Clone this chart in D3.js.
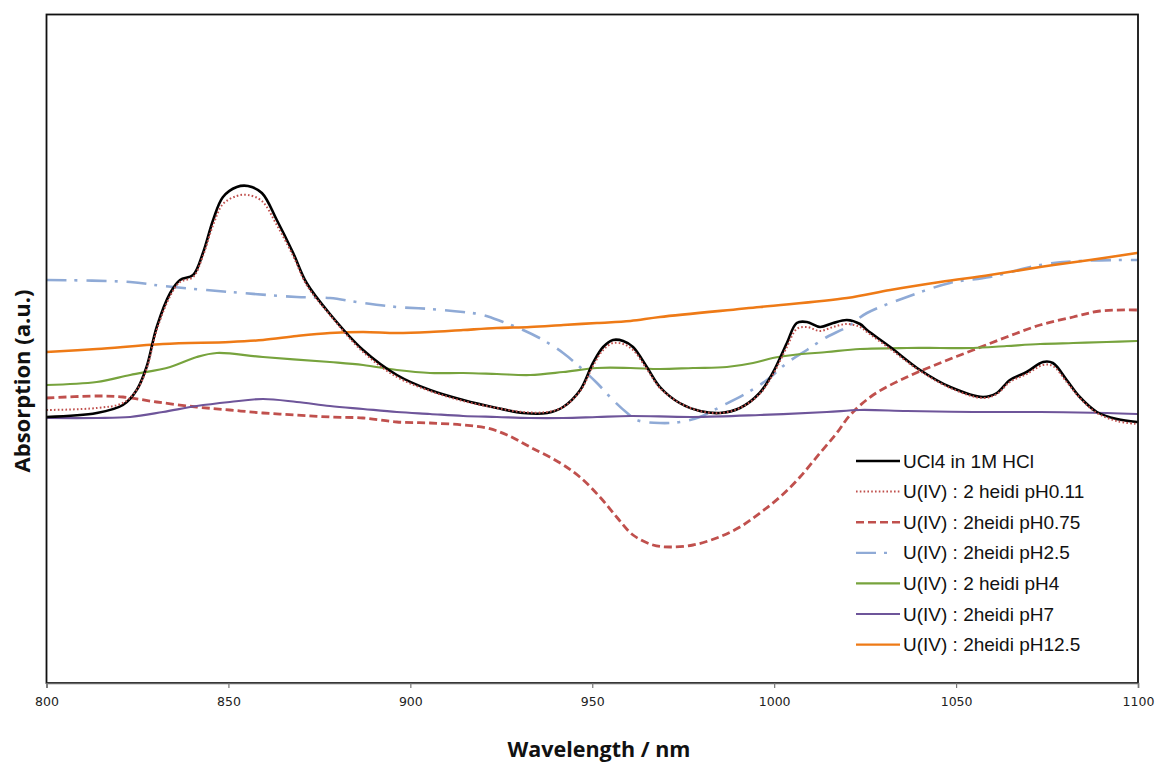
<!DOCTYPE html>
<html>
<head>
<meta charset="utf-8">
<script src="https://cdn.jsdelivr.net/npm/d3@7"></script>
<style>
  html, body { margin: 0; padding: 0; background: #fff; }
  svg { display: block; }
</style>
</head>
<body>
<svg id="chart" width="1158" height="763"></svg>
<script>
// Absorption spectra of U(IV) samples, 800–1100 nm (arbitrary units)

const xTicks = [800, 850, 900, 950, 1000, 1050, 1100];

const seriesNames = [
  "UCl4 in 1M HCl",
  "U(IV) : 2 heidi pH0.11",
  "U(IV) : 2heidi pH0.75",
  "U(IV) : 2heidi pH2.5",
  "U(IV) : 2 heidi pH4",
  "U(IV) : 2heidi pH7",
  "U(IV) : 2heidi pH12.5"
];

// [wavelength nm, absorption a.u.]
const uCl4HCl = [
  [800, 2.66], [813.8, 2.70], [821, 2.78], [824.8, 2.93], [827.5, 3.16], [830.3, 3.56],
  [834, 3.90], [836.7, 4.03], [840.3, 4.08], [843, 4.30], [845.8, 4.63], [848.5, 4.86],
  [852.3, 4.96], [855.4, 4.97], [859.2, 4.90], [863.3, 4.63], [867.8, 4.30], [871.5, 4.00],
  [877.9, 3.69], [887, 3.33], [896.3, 3.08], [905.4, 2.93], [914.5, 2.83], [923.8, 2.75],
  [931, 2.70], [937.6, 2.70], [942, 2.76], [946.7, 2.93], [950.2, 3.20], [953, 3.36],
  [955.7, 3.43], [958.5, 3.42], [961.2, 3.36], [965, 3.16], [968.6, 2.96], [974, 2.80],
  [979.6, 2.72], [985.1, 2.70], [990.6, 2.75], [996, 2.90], [999.6, 3.10], [1003.5, 3.40],
  [1006.2, 3.60], [1009, 3.61], [1012.6, 3.56], [1016.2, 3.60], [1020, 3.63], [1023.6, 3.59],
  [1025.5, 3.53], [1031.9, 3.36], [1040.1, 3.13], [1048.4, 2.96], [1057.4, 2.86], [1061.2, 2.90],
  [1064.8, 3.03], [1069.4, 3.11], [1073.9, 3.21], [1076.6, 3.20], [1080.4, 3.03], [1084, 2.86],
  [1088.7, 2.71], [1094.2, 2.64], [1099.7, 2.61]
];

const pH011 = [
  [800, 2.73], [813.8, 2.75], [821, 2.80], [824.8, 2.93], [827.5, 3.14], [830.3, 3.53],
  [834, 3.87], [836.7, 4.01], [840.3, 4.06], [843, 4.27], [845.8, 4.58], [848.5, 4.79],
  [852.3, 4.87], [855.4, 4.88], [859.2, 4.82], [863.3, 4.58], [867.8, 4.27], [871.5, 3.98],
  [877.9, 3.68], [887, 3.31], [896.3, 3.06], [905.4, 2.92], [914.5, 2.82], [923.8, 2.75],
  [931, 2.71], [937.6, 2.71], [942, 2.76], [946.7, 2.92], [950.2, 3.17], [953, 3.33],
  [955.7, 3.40], [958.5, 3.39], [961.2, 3.33], [965, 3.14], [968.6, 2.95], [974, 2.80],
  [979.6, 2.72], [985.1, 2.70], [990.6, 2.75], [996, 2.89], [999.6, 3.08], [1003.5, 3.36],
  [1006.2, 3.54], [1009, 3.56], [1012.6, 3.52], [1016.2, 3.56], [1020, 3.59], [1023.6, 3.56],
  [1025.5, 3.51], [1031.9, 3.34], [1040.1, 3.12], [1048.4, 2.95], [1057.4, 2.85], [1061.2, 2.89],
  [1064.8, 3.01], [1069.4, 3.09], [1073.9, 3.18], [1076.6, 3.17], [1080.4, 3.01], [1084, 2.85],
  [1088.7, 2.70], [1094.2, 2.62], [1099.7, 2.59]
];

const pH075 = [
  [800, 2.85], [813.8, 2.87], [821, 2.86], [830.3, 2.81], [841.3, 2.76], [850.4, 2.73],
  [859.5, 2.70], [868.8, 2.68], [877.9, 2.66], [887, 2.65], [896.3, 2.61], [905.4, 2.60],
  [914.5, 2.58], [921.1, 2.55], [926.6, 2.48], [932.9, 2.36], [941.2, 2.20], [946.6, 2.06],
  [952.1, 1.86], [956.7, 1.66], [961.2, 1.48], [966.7, 1.38], [971.4, 1.36], [977.7, 1.38],
  [984.2, 1.45], [990.6, 1.56], [996.1, 1.70], [1001.6, 1.86], [1007.1, 2.06], [1012.6, 2.30],
  [1017.2, 2.50], [1020.9, 2.68], [1027.2, 2.88], [1036.5, 3.06], [1045.6, 3.20], [1054.7, 3.33],
  [1063.9, 3.46], [1073.1, 3.58], [1082.2, 3.66], [1089.6, 3.72], [1099.7, 3.73]
];

const pH25 = [
  [800, 4.03], [823, 4.01], [832, 3.97], [850.4, 3.91], [868.8, 3.86], [877.9, 3.85],
  [887, 3.80], [896.3, 3.76], [905.4, 3.74], [914.5, 3.71], [920, 3.68], [925.5, 3.61],
  [931, 3.53], [936.5, 3.43], [942, 3.30], [947.5, 3.13], [951.3, 3.00], [955.7, 2.83],
  [959.6, 2.70], [962.2, 2.63], [968.6, 2.60], [974.1, 2.61], [979.6, 2.66], [985.1, 2.76],
  [992.5, 2.90], [998, 3.03], [1003.5, 3.20], [1009, 3.33], [1014.5, 3.46], [1020, 3.56],
  [1025.5, 3.70], [1036.5, 3.86], [1048.3, 4.00], [1059.3, 4.06], [1073.1, 4.18], [1084.1, 4.22],
  [1096.9, 4.23], [1099.8, 4.23]
];

const pH4 = [
  [800, 2.98], [813.8, 3.01], [823, 3.08], [834, 3.16], [841.3, 3.26], [846.8, 3.30],
  [859.5, 3.26], [877.9, 3.21], [887, 3.18], [896.3, 3.13], [905.4, 3.10], [914.5, 3.10],
  [923.8, 3.09], [932.9, 3.08], [942, 3.11], [951.3, 3.15], [960.5, 3.15], [968.6, 3.14],
  [977.7, 3.15], [987, 3.16], [994.2, 3.20], [999.6, 3.25], [1005.2, 3.28], [1014.5, 3.31],
  [1023.6, 3.34], [1036.5, 3.35], [1045.6, 3.35], [1054.7, 3.35], [1063.9, 3.37], [1073.1, 3.39],
  [1082.2, 3.40], [1091.4, 3.41], [1099.7, 3.42]
];

const pH7 = [
  [800, 2.65], [813.8, 2.65], [823, 2.66], [832, 2.71], [841.3, 2.77], [850.4, 2.81],
  [859.5, 2.84], [868.8, 2.81], [877.9, 2.77], [887, 2.74], [896.3, 2.71], [905.4, 2.69],
  [914.5, 2.67], [923.8, 2.66], [932.9, 2.65], [942, 2.65], [951.3, 2.66], [960.5, 2.67],
  [977.7, 2.66], [996.1, 2.68], [1014.5, 2.71], [1023.6, 2.73], [1036.5, 2.72], [1054.7, 2.71],
  [1073.1, 2.71], [1091.4, 2.70], [1099.7, 2.69]
];

const pH125 = [
  [800, 3.31], [813.8, 3.34], [832, 3.39], [850.4, 3.41], [859.5, 3.43], [868.8, 3.47],
  [877.9, 3.50], [887, 3.51], [896.3, 3.50], [905.4, 3.51], [914.5, 3.53], [923.8, 3.55],
  [932.9, 3.56], [942, 3.58], [951.3, 3.60], [960.5, 3.62], [968.6, 3.66], [996.1, 3.76],
  [1020, 3.85], [1031.9, 3.93], [1045.6, 4.01], [1059.3, 4.08], [1073.1, 4.16], [1086.8, 4.23],
  [1099.7, 4.30]
];

const seriesData = [uCl4HCl, pH011, pH075, pH25, pH4, pH7, pH125];

// Stroke styling per series
const styles = [
  { color: "#000000", width: 2.6, dash: null },
  { color: "#c0504d", width: 2, dash: "1.6,2.2" },
  { color: "#c0504d", width: 2.8, dash: "8,4" },
  { color: "#8faad6", width: 2.6, dash: "20,8,3,9" },
  { color: "#77a33d", width: 2.2, dash: null },
  { color: "#6e559a", width: 2.2, dash: null },
  { color: "#ee7a16", width: 2.6, dash: null }
];

// Draw order: background series first, reference spectra on top
const drawOrder = [3, 2, 4, 5, 6, 0, 1];

const svg = d3.select("#chart");
const plot = { left: 46.5, right: 1138, top: 14.5, bottom: 683 };

const x = d3.scaleLinear().domain([800, 1100]).range([plot.left, plot.right]);
const y = d3.scaleLinear().domain([0, 6.685]).range([plot.bottom, plot.top]);

svg.append("defs").append("clipPath").attr("id", "plotClip")
  .append("rect")
  .attr("x", plot.left).attr("y", plot.top)
  .attr("width", plot.right - plot.left).attr("height", plot.bottom - plot.top);

const line = d3.line()
  .x(d => x(d[0]))
  .y(d => y(d[1]))
  .curve(d3.curveCatmullRom.alpha(0.5));

const lines = svg.append("g").attr("clip-path", "url(#plotClip)");
drawOrder.forEach(i => {
  const s = styles[i];
  lines.append("path")
    .datum(seriesData[i])
    .attr("d", line)
    .attr("fill", "none")
    .attr("stroke", s.color)
    .attr("stroke-width", s.width)
    .attr("stroke-dasharray", s.dash)
    .attr("stroke-linejoin", "round")
    .attr("stroke-linecap", s.dash ? "butt" : "round");
});

// Plot frame
svg.append("rect")
  .attr("x", plot.left).attr("y", plot.top)
  .attr("width", plot.right - plot.left).attr("height", plot.bottom - plot.top)
  .attr("fill", "none")
  .attr("stroke", "#111")
  .attr("stroke-width", 1.8);

// X axis
const xAxis = d3.axisBottom(x)
  .tickValues(xTicks)
  .tickSize(5)
  .tickPadding(9)
  .tickFormat(d3.format("d"));

const xg = svg.append("g")
  .attr("transform", `translate(0,${plot.bottom})`)
  .call(xAxis);
xg.select(".domain").attr("stroke", "#666").attr("stroke-width", 1.5);
xg.selectAll(".tick line").attr("stroke", "#777").attr("stroke-width", 1.2);
xg.selectAll(".tick text")
  .attr("fill", "#222")
  .style("font-family", "'DejaVu Sans', sans-serif")
  .style("font-size", "12.5px");

// Axis titles
svg.append("text")
  .attr("x", 599).attr("y", 757)
  .attr("text-anchor", "middle")
  .style("font-family", "'Open Sans', 'Liberation Sans', sans-serif")
  .style("font-weight", "bold")
  .style("font-size", "21.5px")
  .attr("fill", "#111")
  .text("Wavelength / nm");

svg.append("text")
  .attr("transform", "translate(30,381) rotate(-90)")
  .attr("text-anchor", "middle")
  .style("font-family", "'Open Sans', 'Liberation Sans', sans-serif")
  .style("font-weight", "bold")
  .style("font-size", "22px")
  .attr("fill", "#111")
  .text("Absorption (a.u.)");

// Legend
const legend = svg.append("g").attr("transform", "translate(856,461)");
seriesNames.forEach((name, i) => {
  const s = styles[i];
  const row = legend.append("g").attr("transform", `translate(0,${i * 30.6})`);
  row.append("line")
    .attr("x1", 0).attr("x2", 44).attr("y1", 0).attr("y2", 0)
    .attr("stroke", s.color)
    .attr("stroke-width", i === 3 ? 2.2 : Math.min(s.width, 2.4))
    .attr("stroke-dasharray", i === 3 ? "20,8,3,40" : s.dash);
  row.append("text")
    .attr("x", 47).attr("y", 0)
    .attr("dy", "0.35em")
    .style("font-family", "'Liberation Sans', Arial, sans-serif")
    .style("font-size", "19px")
    .attr("fill", "#111")
    .text(name);
});
</script>
</body>
</html>
